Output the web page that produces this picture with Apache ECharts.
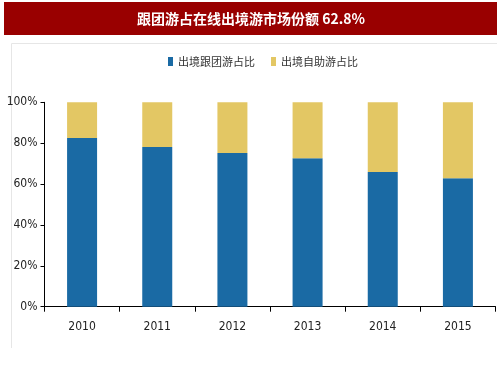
<!DOCTYPE html>
<html>
<head>
<meta charset="utf-8">
<script src="https://cdn.jsdelivr.net/npm/echarts@6/dist/echarts.min.js"></script>
<style>html,body{margin:0;padding:0;background:#fff;}#c{width:503px;height:378px;}</style>
</head>
<body>
<div id="c"></div>
<script>
const titleText = '跟团游占在线出境游市场份额 62.8%';
const categories = ['2010', '2011', '2012', '2013', '2014', '2015'];
const seriesNames = ['出境跟团游占比', '出境自助游占比'];
const groupShare = [82.5, 78.1, 75.2, 72.6, 65.9, 62.8];
const selfShare = [17.5, 21.9, 24.8, 27.4, 34.1, 37.2];

const chart = echarts.init(document.getElementById('c'), null, {renderer: 'canvas'});
const axisFont = '"Liberation Sans Narrow", "DejaVu Sans Condensed", sans-serif';
chart.setOption({
  animation: false,
  graphic: [
    {type: 'rect', shape: {x: 4, y: 2, width: 493, height: 33}, style: {fill: '#990000'}, z: 0},
    {type: 'text', x: 251, y: 19, style: {text: titleText, fill: '#fff', font: 'bold 14px "Noto Sans CJK SC", sans-serif', textAlign: 'center', textVerticalAlign: 'middle'}},
    {type: 'line', shape: {x1: 11.5, y1: 43.5, x2: 497, y2: 43.5}, style: {stroke: '#e6e6e6', lineWidth: 1}},
    {type: 'line', shape: {x1: 11.5, y1: 43.5, x2: 11.5, y2: 348}, style: {stroke: '#e6e6e6', lineWidth: 1}}
  ],
  legend: {
    top: 51,
    left: 163,
    itemWidth: 5,
    itemHeight: 9,
    itemGap: 16,
    icon: 'rect',
    textStyle: {fontFamily: '"Noto Sans CJK SC", sans-serif', fontSize: 11, color: '#333'},
    data: seriesNames
  },
  grid: {left: 44.5, right: 7.5, top: 102.3, bottom: 71.3, containLabel: false},
  xAxis: {
    type: 'category',
    data: categories,
    axisLine: {lineStyle: {color: '#000', width: 1}},
    axisTick: {show: true, length: 5, lineStyle: {color: '#000'}},
    axisLabel: {color: '#222', fontFamily: axisFont, fontSize: 12, margin: 14}
  },
  yAxis: {
    type: 'value',
    min: 0, max: 100, interval: 20,
    splitLine: {show: false},
    axisLine: {show: true, lineStyle: {color: '#000', width: 1}},
    axisTick: {show: true, length: 4, lineStyle: {color: '#000'}},
    axisLabel: {formatter: '{value}%', color: '#222', fontFamily: axisFont, fontSize: 12, margin: 7}
  },
  series: [
    {name: seriesNames[0], type: 'bar', stack: 's', data: groupShare, barWidth: 30,
     itemStyle: {color: '#1a6aa4'}},
    {name: seriesNames[1], type: 'bar', stack: 's', data: selfShare, barWidth: 30,
     itemStyle: {color: '#e3c764'}}
  ]
});
</script>
</body>
</html>
